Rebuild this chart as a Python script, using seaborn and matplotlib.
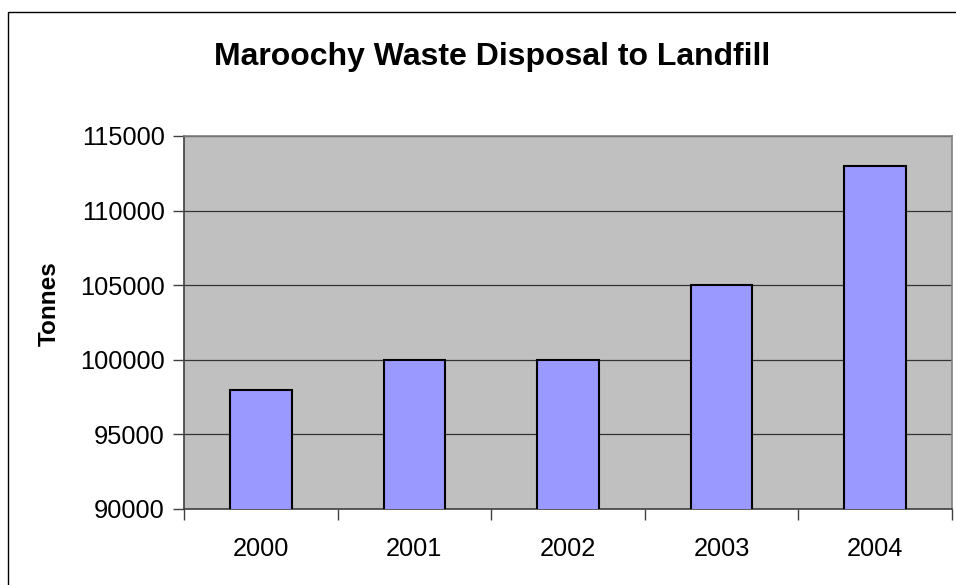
import matplotlib
matplotlib.use('Agg')
import matplotlib.pyplot as plt
import seaborn as sns
import pandas as pd
from matplotlib.patches import Rectangle

# data
years = ['2000', '2001', '2002', '2003', '2004']
tonnes = [98000, 100000, 100000, 105000, 113000]
yticks = [90000, 95000, 100000, 105000, 110000, 115000]

df = pd.DataFrame({'Year': years, 'Tonnes': tonnes})

sns.set_style('white', {'xtick.bottom': True, 'ytick.left': True})
plt.rcParams['font.family'] = ['Liberation Sans', 'DejaVu Sans']
plt.rcParams['text.color'] = 'black'
plt.rcParams['axes.labelcolor'] = 'black'
plt.rcParams['xtick.color'] = 'black'
plt.rcParams['ytick.color'] = 'black'

fig = plt.figure(figsize=(9.56, 5.85), dpi=100)
ax = fig.add_axes([184 / 956, 1 - 509 / 585, 768 / 956, 373 / 585])

sns.barplot(data=df, x='Year', y='Tonnes', color='#9999FF', width=0.40,
            edgecolor='black', linewidth=1.5, saturation=1, ax=ax, zorder=3)

ax.set_facecolor('#C0C0C0')
ax.set_ylim(90000, 115000)
ax.set_xlim(-0.5, 4.5)
ax.set_yticks(yticks)
ax.set_yticklabels([str(v) for v in yticks], fontsize=18.3)
ax.tick_params(axis='y', left=True, direction='out', length=8, width=1, color='#404040',
               labelcolor='black', pad=6)
ax.grid(axis='y', color='#333333', linewidth=0.9, zorder=1)
ax.set_axisbelow(True)

# x ticks sit on the category boundaries, labels in the middle
ax.set_xticks([-0.5, 0.5, 1.5, 2.5, 3.5, 4.5])
ax.set_xticklabels([])
ax.set_xticks(range(len(years)), minor=True)
ax.set_xticklabels(years, minor=True, fontsize=18.3)
ax.tick_params(axis='x', which='major', bottom=True, direction='out', length=8, width=1,
               color='#404040')
ax.tick_params(axis='x', which='minor', bottom=True, length=0, pad=20, labelcolor='black')

for side in ['left', 'bottom']:
    ax.spines[side].set_color('#404040')
    ax.spines[side].set_linewidth(1.2)
for side in ['top', 'right']:
    ax.spines[side].set_color('#808080')
    ax.spines[side].set_linewidth(1.2)

ax.set_xlabel('')
ax.set_ylabel('Tonnes', fontsize=17.5, fontweight='bold')
ax.yaxis.set_label_coords(-0.16, 0.55)

fig.text(492 / 956, 1 - 57 / 585, 'Maroochy Waste Disposal to Landfill',
         ha='center', va='center', fontsize=23, fontweight='bold')

# outer chart border (right and bottom edges fall outside the image)
fig.patches.append(Rectangle((8 / 956, -0.1), 1.2, 1 - 12 / 585 + 0.1,
                             transform=fig.transFigure, fill=False,
                             edgecolor='black', linewidth=1))

fig.savefig('out.png', dpi=100)
